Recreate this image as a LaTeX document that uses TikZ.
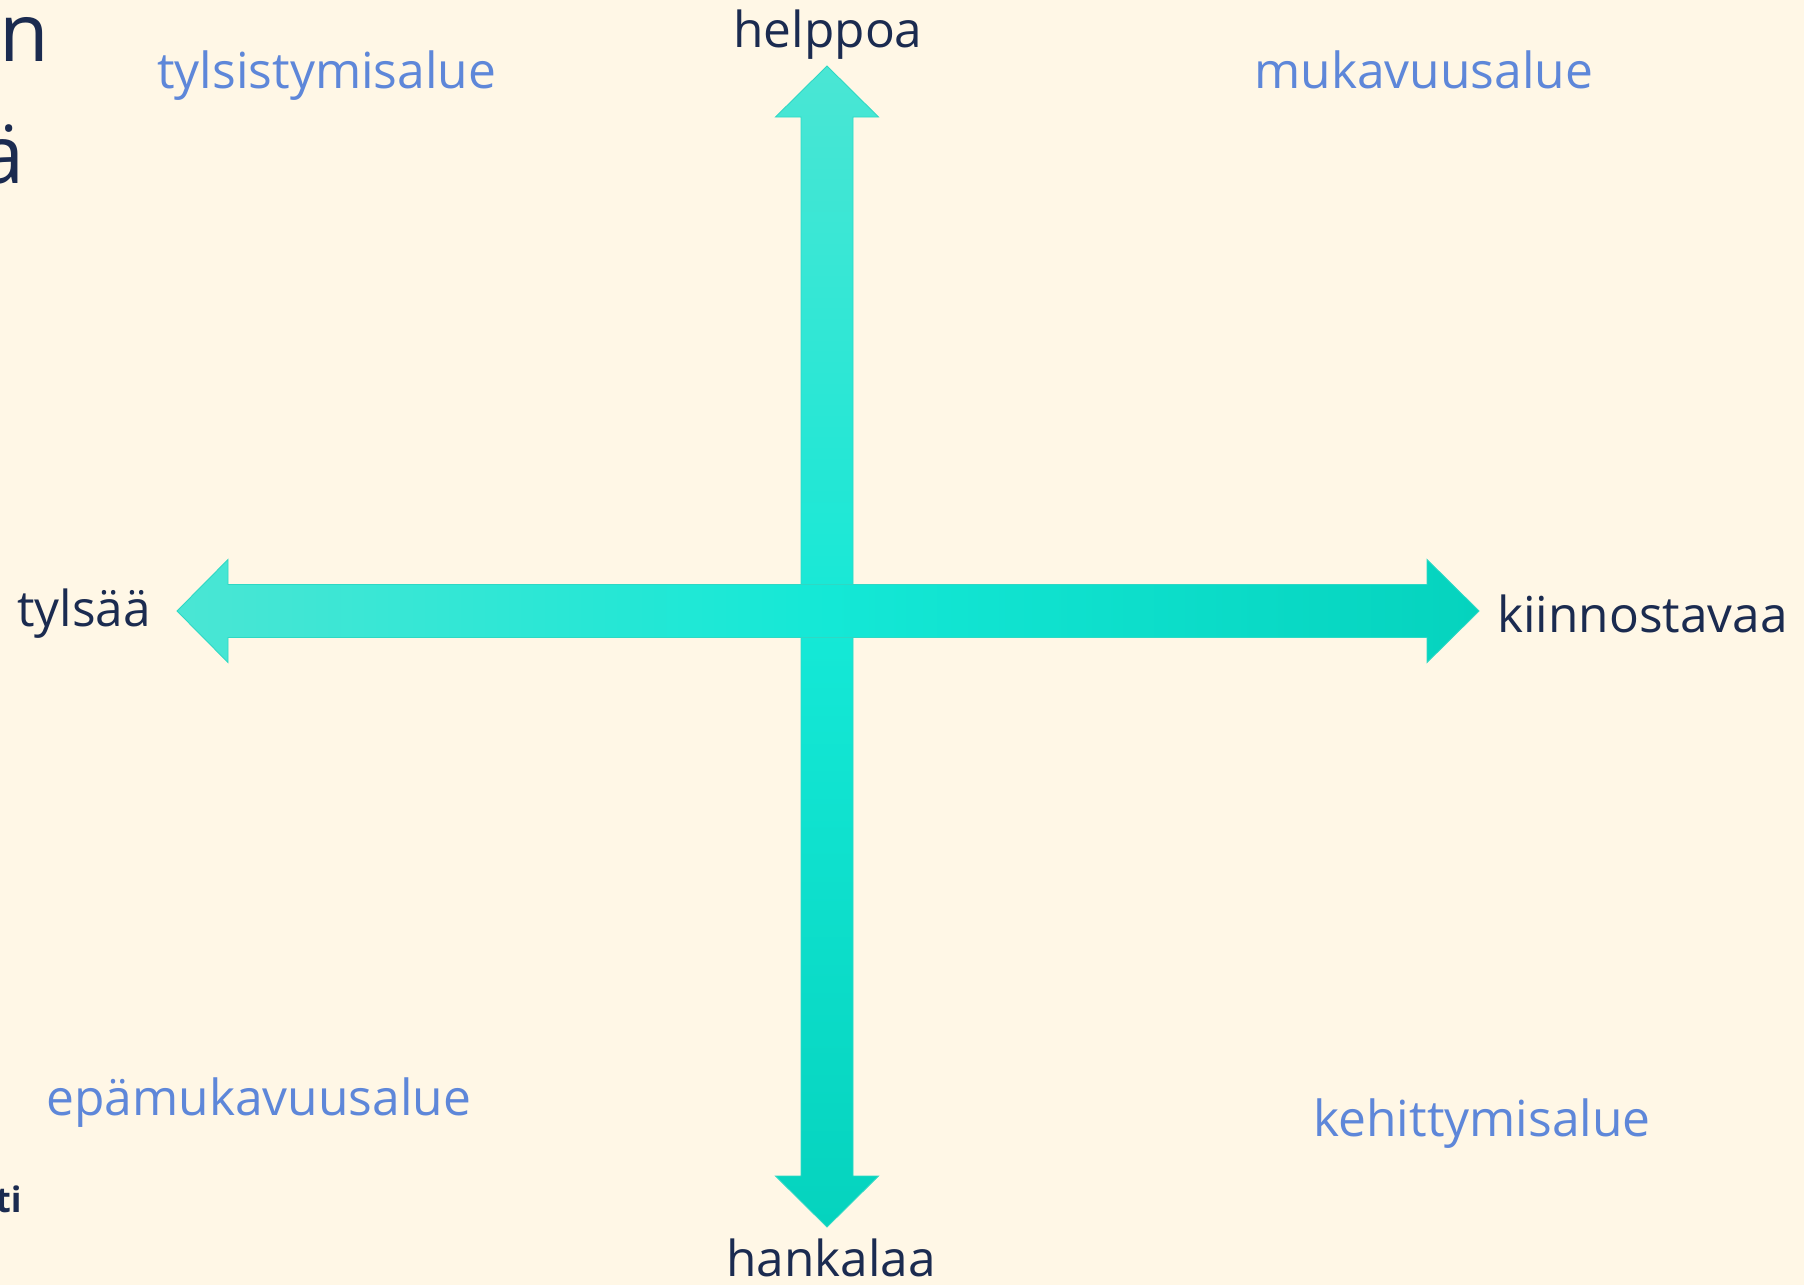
\documentclass[tikz,border=0pt]{standalone}
\usepackage{fontspec}
\setmainfont{Open Sans}
\usetikzlibrary{positioning}
\definecolor{paper}{HTML}{FFF7E6}
\definecolor{ink}{HTML}{1B2B50}
\definecolor{zone}{HTML}{5E87D9}
\definecolor{aqualight}{HTML}{4AE6D4}
\definecolor{aquamid}{HTML}{14E8D6}
\definecolor{aquadark}{HTML}{05D3BE}
\definecolor{aquaedge}{HTML}{2ED8C4}

\begin{document}
\begin{tikzpicture}[x=0.02cm,y=-0.02cm,
    axislabel/.style={font=\fontsize{28.2}{34}\selectfont,text=ink,inner sep=0pt},
    zonelabel/.style={font=\fontsize{28.3}{34}\selectfont,text=zone,inner sep=0pt},
    titlebit/.style={font=\fontsize{46}{54}\selectfont,text=ink,inner sep=0pt}]
    \fill[paper] (0,0) rectangle (1804,1285);
    \useasboundingbox (0,0) rectangle (1804,1285);
    % cut-off title on the left edge
    \node[titlebit,anchor=base east] (title1) at (49,61) {n};
    \node[titlebit,anchor=base east] (title2) at (25,183) {ä};
    \node[inner sep=0pt,text=ink,font=\fontsize{20}{24}\selectfont\bfseries,anchor=base east] (foot) at (22,1212) {ti};
    % vertical axis
    \shadedraw[draw=aquaedge,line width=0.5pt,top color=aqualight,bottom color=aquadark,middle color=aquamid]
      (827,66) -- (878.5,117) -- (853,117) -- (853,1176) -- (878.5,1176) -- (827,1227)
      -- (775.5,1176) -- (801,1176) -- (801,117) -- (775.5,117) -- cycle;
    % horizontal axis
    \shadedraw[draw=aquaedge,line width=0.5pt,left color=aqualight,right color=aquadark,middle color=aquamid]
      (177,611) -- (228,559.5) -- (228,584.5) -- (1427,584.5) -- (1427,559.5) -- (1479,611)
      -- (1427,662.5) -- (1427,637.5) -- (228,637.5) -- (228,662.5) -- cycle;
    % axis ends
    \node[axislabel,anchor=base] (easy) at (828,47) {helppoa};
    \node[axislabel,anchor=base] (hard) at (831,1276) {hankalaa};
    \node[axislabel,anchor=base west] (dull) at (17,626) {tylsää};
    \node[axislabel,anchor=base west] (fun) at (1497,632) {kiinnostavaa};
    % quadrants
    \node[zonelabel,anchor=base west] (bored) at (157,88) {tylsistymisalue};
    \node[zonelabel,anchor=base west] (comfort) at (1254,88) {mukavuusalue};
    \node[zonelabel,anchor=base west] (discomfort) at (46,1115) {epämukavuusalue};
    \node[zonelabel,anchor=base west] (growth) at (1313,1136) {kehittymisalue};
\end{tikzpicture}
\end{document}
